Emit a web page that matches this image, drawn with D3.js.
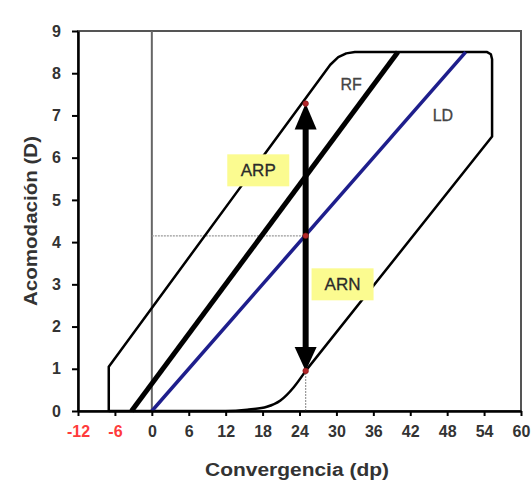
<!DOCTYPE html>
<html>
<head>
<meta charset="utf-8">
<script src="https://cdn.jsdelivr.net/npm/d3@7"></script>
<style>
  body { margin: 0; background: #fff; }
  svg { display: block; font-family: "Liberation Sans", Arial, sans-serif; }
</style>
</head>
<body>
<div id="chart"><svg width="531" height="480"></svg></div>
<script>
// ticks
const xTicks = [-12, -6, 0, 6, 12, 18, 24, 30, 36, 42, 48, 54, 60];
const yTicks = [0, 1, 2, 3, 4, 5, 6, 7, 8, 9];
const redTicks = [-12, -6];

// outer zone (linear part, with rounded corners)
const envelope = [
  [-7, 0], [-7, 1.05], [29, 8.2], [30.3, 8.38], [31.6, 8.47], [33, 8.5],
  [54.5, 8.5], [55.1, 8.45], [55.3, 8.33], [55.3, 6.5], [25, 0.95],
];
// lower bend of the zone, down to the x axis
const lowerBend = [
  [-7, 0], [12, 0], [15.5, 0.03], [18.7, 0.1], [20.9, 0.25], [23.1, 0.57], [25, 0.95],
];
const rfLine = [[-3.3, 0], [40, 8.5]];
const ldLine = [[0, 0], [51, 8.5]];

// arrow + points at x = 25
const arrowX = 25;
const arrowTop = 7.28;
const arrowBottom = 0.95;
const ldPoint = 4.15;
const dots = [arrowTop, ldPoint, arrowBottom];

const boxLabels = [
  { text: "ARP", x: 17.3, y: 5.7 },
  { text: "ARN", x: 31, y: 3.0 },
];
const plainLabels = [
  { text: "RF", x: 32.4, y: 7.6 },
  { text: "LD", x: 47.3, y: 6.87 },
];

const svg = d3.select("#chart").select("svg");
const plotLeft = 78, plotRight = 521, plotTop = 31, plotBottom = 411;

const x = d3.scaleLinear().domain([-12, 60]).range([plotLeft, plotRight]);
const y = d3.scaleLinear().domain([0, 9]).range([plotBottom, plotTop]);

// frame
svg.append("rect")
  .attr("x", plotLeft).attr("y", plotTop)
  .attr("width", plotRight - plotLeft).attr("height", plotBottom - plotTop)
  .attr("fill", "none").attr("stroke", "#555").attr("stroke-width", 2);

// x = 0 line
svg.append("line")
  .attr("x1", x(0)).attr("x2", x(0)).attr("y1", y(9)).attr("y2", y(0))
  .attr("stroke", "#666").attr("stroke-width", 2);

// dotted guides
svg.append("line")
  .attr("x1", x(0)).attr("x2", x(arrowX)).attr("y1", y(ldPoint)).attr("y2", y(ldPoint))
  .attr("stroke", "#999").attr("stroke-width", 1.2).attr("stroke-dasharray", "2,1");
svg.append("line")
  .attr("x1", x(arrowX)).attr("x2", x(arrowX)).attr("y1", y(0)).attr("y2", y(arrowBottom))
  .attr("stroke", "#999").attr("stroke-width", 1.2).attr("stroke-dasharray", "2,1");

const line = d3.line().x((d) => x(d[0])).y((d) => y(d[1]));

svg.append("path").datum(envelope).attr("d", line)
  .attr("fill", "none").attr("stroke", "#000").attr("stroke-width", 2.5)
  .attr("stroke-linejoin", "round");
svg.append("path").datum(lowerBend).attr("d", line.curve(d3.curveMonotoneX))
  .attr("fill", "none").attr("stroke", "#000").attr("stroke-width", 2.5);
line.curve(d3.curveLinear);

svg.append("path").datum(rfLine).attr("d", line)
  .attr("fill", "none").attr("stroke", "#000").attr("stroke-width", 5);
svg.append("path").datum(ldLine).attr("d", line)
  .attr("fill", "none").attr("stroke", "#1e1e8c").attr("stroke-width", 3.5);

// double arrow
const ax = x(arrowX);
const tipTop = y(arrowTop), tipBottom = y(arrowBottom);
svg.append("line")
  .attr("x1", ax).attr("x2", ax).attr("y1", tipTop + 20).attr("y2", tipBottom - 20)
  .attr("stroke", "#000").attr("stroke-width", 6);
svg.append("path")
  .attr("d", `M${ax},${tipTop} L${ax - 11},${tipTop + 26} L${ax + 11},${tipTop + 26} Z`)
  .attr("fill", "#000");
svg.append("path")
  .attr("d", `M${ax},${tipBottom} L${ax - 11},${tipBottom - 24} L${ax + 11},${tipBottom - 24} Z`)
  .attr("fill", "#000");

svg.selectAll(".dot").data(dots).join("circle")
  .attr("class", "dot")
  .attr("cx", ax).attr("cy", (d) => y(d)).attr("r", 2.8)
  .attr("fill", "#b3262a").attr("stroke", "#7a1010").attr("stroke-width", 0.6);

// axes
const xAxis = svg.append("g")
  .attr("transform", `translate(0,${plotBottom})`)
  .call(d3.axisBottom(x).tickValues(xTicks).tickFormat((d) => String(d))
    .tickSize(5).tickSizeOuter(0).tickPadding(10));
const yAxis = svg.append("g")
  .attr("transform", `translate(${plotLeft},0)`)
  .call(d3.axisLeft(y).tickValues(yTicks).tickFormat((d) => String(d))
    .tickSize(6).tickSizeOuter(0).tickPadding(11));

[xAxis, yAxis].forEach((g) => {
  g.select(".domain").attr("stroke", "#000").attr("stroke-width", 2.5);
  g.selectAll(".tick line").attr("stroke", "#000").attr("stroke-width", 2);
  g.selectAll(".tick text")
    .attr("font-size", 16).attr("font-weight", "bold")
    .attr("font-family", "Liberation Sans, Arial, sans-serif")
    .attr("fill", "#333");
});
xAxis.selectAll(".tick text")
  .attr("fill", (d) => (redTicks.includes(d) ? "#ff3b3b" : "#333"));

// label boxes
boxLabels.forEach((b) => {
  const cx = x(b.x), cy = y(b.y);
  svg.append("rect")
    .attr("x", cx - 31).attr("y", cy - 16).attr("width", 62).attr("height", 32)
    .attr("fill", "#fbfb90");
  svg.append("text")
    .attr("x", cx).attr("y", cy + 6)
    .attr("text-anchor", "middle").attr("font-size", 17)
    .attr("fill", "#2a2a2a").attr("stroke", "#2a2a2a").attr("stroke-width", 0.3)
    .text(b.text);
});
plainLabels.forEach((b) => {
  svg.append("text")
    .attr("x", x(b.x)).attr("y", y(b.y))
    .attr("text-anchor", "middle").attr("font-size", 16)
    .attr("fill", "#444").attr("stroke", "#444").attr("stroke-width", 0.3)
    .text(b.text);
});

// axis titles
svg.append("text")
  .attr("x", 297).attr("y", 476)
  .attr("text-anchor", "middle").attr("font-size", 18).attr("font-weight", "bold")
  .attr("textLength", 184).attr("lengthAdjust", "spacingAndGlyphs")
  .attr("fill", "#333").text("Convergencia (dp)");
svg.append("text")
  .attr("transform", "translate(37,221) rotate(-90)")
  .attr("text-anchor", "middle").attr("font-size", 18).attr("font-weight", "bold")
  .attr("textLength", 170).attr("lengthAdjust", "spacingAndGlyphs")
  .attr("fill", "#333").text("Acomodación (D)");
</script>
</body>
</html>
